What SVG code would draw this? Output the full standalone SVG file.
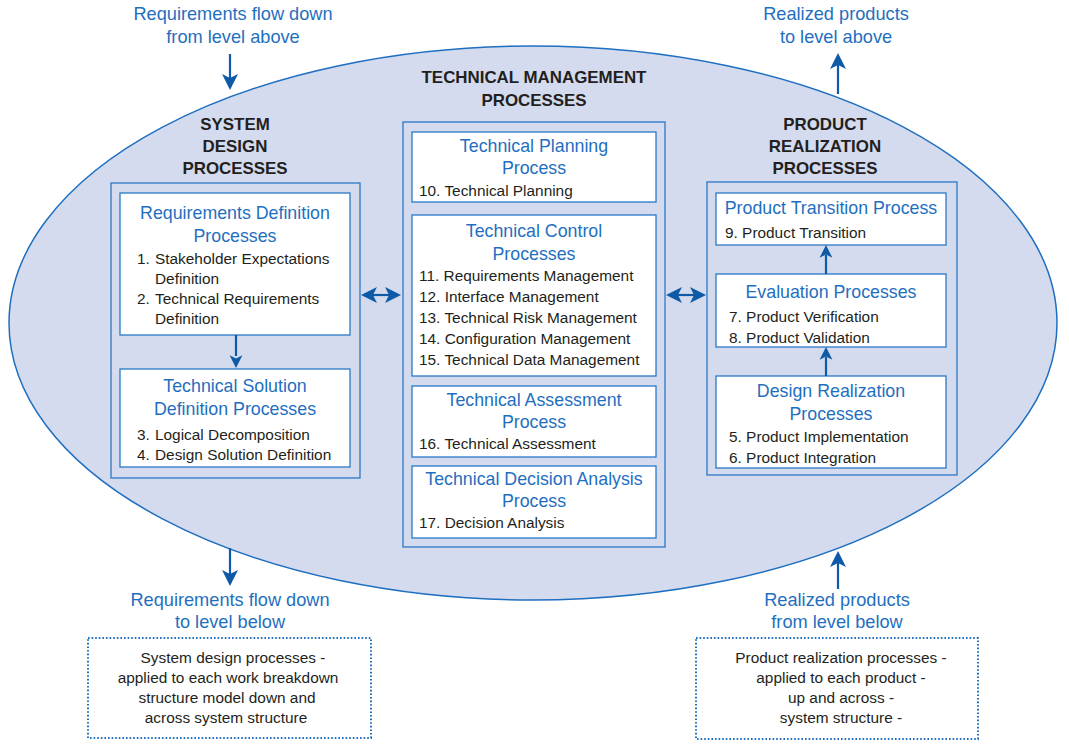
<svg xmlns="http://www.w3.org/2000/svg" width="1069" height="755" viewBox="0 0 1069 755">
<style>
.ell{fill:#d4dbee;stroke:#1f6fc0;stroke-width:1.5}
.outer{fill:none;stroke:#2a78c6;stroke-width:1.3}
.box{fill:#ffffff;stroke:#2a78c6;stroke-width:1.3}
.dot{fill:#ffffff;stroke:#1f6fc0;stroke-width:2;stroke-dasharray:1.6 2}
.bt{font-family:"Liberation Sans",Arial,sans-serif;font-size:17.8px;fill:#1f6fc0;text-anchor:middle}
.it{font-family:"Liberation Sans",Arial,sans-serif;font-size:15.4px;fill:#231f20}
.hd{font-family:"Liberation Sans",Arial,sans-serif;font-size:16.9px;font-weight:bold;fill:#231f20;text-anchor:middle}
.ext{font-family:"Liberation Sans",Arial,sans-serif;font-size:18.2px;fill:#1f6fc0;text-anchor:middle}
.note{font-family:"Liberation Sans",Arial,sans-serif;font-size:15.4px;fill:#231f20;text-anchor:middle}
.ln{stroke:#0e5aa7;stroke-width:2.2;fill:none}
.ah{fill:#0e5aa7}
</style>
<defs>
<path id="hd" d="M0 0 L-8 -16 L0 -12 L8 -16 Z"/>
</defs>
<ellipse class="ell" cx="533" cy="323" rx="524" ry="277"/>

<g id="headers">
<text class="hd" x="534" y="83">TECHNICAL MANAGEMENT</text>
<text class="hd" x="534" y="106">PROCESSES</text>
<text class="hd" x="235" y="130">SYSTEM</text>
<text class="hd" x="235" y="152">DESIGN</text>
<text class="hd" x="235" y="174">PROCESSES</text>
<text class="hd" x="825" y="130">PRODUCT</text>
<text class="hd" x="825" y="152">REALIZATION</text>
<text class="hd" x="825" y="174">PROCESSES</text>
</g>

<g id="system-design">
<rect class="outer" x="111" y="183" width="249" height="295"/>
</g>
<g id="req-def">
<rect class="box" x="120" y="193" width="230" height="142"/>
<text class="bt" x="235" y="219">Requirements Definition</text>
<text class="bt" x="235" y="242">Processes</text>
<text class="it" x="137" y="264">1.</text><text class="it" x="155" y="264">Stakeholder Expectations</text>
<text class="it" x="155" y="284">Definition</text>
<text class="it" x="137" y="304">2.</text><text class="it" x="155" y="304">Technical Requirements</text>
<text class="it" x="155" y="324">Definition</text>
</g>
<g id="tech-sol">
<rect class="box" x="120" y="369" width="230" height="98"/>
<text class="bt" x="235" y="392">Technical Solution</text>
<text class="bt" x="235" y="415">Definition Processes</text>
<text class="it" x="137" y="440">3.</text><text class="it" x="155" y="440">Logical Decomposition</text>
<text class="it" x="137" y="460">4.</text><text class="it" x="155" y="460">Design Solution Definition</text>
</g>

<g id="tech-mgmt">
<rect class="outer" x="403" y="122" width="262" height="425"/>
</g>
<g id="tech-plan">
<rect class="box" x="412" y="132" width="244" height="70"/>
<text class="bt" x="534" y="152">Technical Planning</text>
<text class="bt" x="534" y="174">Process</text>
<text class="it" x="419" y="196">10. Technical Planning</text>
</g>
<g id="tech-control">
<rect class="box" x="412" y="215" width="244" height="161"/>
<text class="bt" x="534" y="237">Technical Control</text>
<text class="bt" x="534" y="260">Processes</text>
<text class="it" x="419" y="281">11. Requirements Management</text>
<text class="it" x="419" y="302">12. Interface Management</text>
<text class="it" x="419" y="323">13. Technical Risk Management</text>
<text class="it" x="419" y="344">14. Configuration Management</text>
<text class="it" x="419" y="365">15. Technical Data Management</text>
</g>
<g id="tech-assess">
<rect class="box" x="412" y="386" width="244" height="71"/>
<text class="bt" x="534" y="406">Technical Assessment</text>
<text class="bt" x="534" y="428">Process</text>
<text class="it" x="419" y="449">16. Technical Assessment</text>
</g>
<g id="tech-decision">
<rect class="box" x="412" y="466" width="244" height="72"/>
<text class="bt" x="534" y="485">Technical Decision Analysis</text>
<text class="bt" x="534" y="507">Process</text>
<text class="it" x="419" y="528">17. Decision Analysis</text>
</g>

<g id="product-realization">
<rect class="outer" x="707" y="182" width="250" height="293"/>
</g>
<g id="transition">
<rect class="box" x="716" y="193" width="230" height="52"/>
<text class="bt" x="831" y="214">Product Transition Process</text>
<text class="it" x="725" y="238">9. Product Transition</text>
</g>
<g id="evaluation">
<rect class="box" x="716" y="274" width="230" height="73"/>
<text class="bt" x="831" y="298">Evaluation Processes</text>
<text class="it" x="729" y="322">7. Product Verification</text>
<text class="it" x="729" y="343">8. Product Validation</text>
</g>
<g id="design-real">
<rect class="box" x="716" y="376" width="230" height="92"/>
<text class="bt" x="831" y="397">Design Realization</text>
<text class="bt" x="831" y="420">Processes</text>
<text class="it" x="729" y="442">5. Product Implementation</text>
<text class="it" x="729" y="463">6. Product Integration</text>
</g>

<g id="ext-labels">
<text class="ext" x="233" y="20">Requirements flow down</text>
<text class="ext" x="233" y="43">from level above</text>
<text class="ext" x="836" y="20">Realized products</text>
<text class="ext" x="836" y="43">to level above</text>
<text class="ext" x="230" y="606">Requirements flow down</text>
<text class="ext" x="230" y="628">to level below</text>
<text class="ext" x="837" y="606">Realized products</text>
<text class="ext" x="837" y="628">from level below</text>
</g>

<g id="note-left">
<rect class="dot" x="88" y="638" width="283" height="100"/>
<text class="note" x="233" y="663">System design processes -</text>
<text class="note" x="228" y="683">applied to each work breakdown</text>
<text class="note" x="227" y="703">structure model down and</text>
<text class="note" x="226" y="723">across system structure</text>
</g>
<g id="note-right">
<rect class="dot" x="696" y="638" width="282" height="101"/>
<text class="note" x="841" y="663">Product realization processes -</text>
<text class="note" x="841" y="683">applied to each product -</text>
<text class="note" x="841" y="703">up and across -</text>
<text class="note" x="841" y="723">system structure -</text>
</g>

<g id="connectors">
<line class="ln" x1="230" y1="54" x2="230" y2="78"/>
<use href="#hd" class="ah" transform="translate(230,90)"/>
<line class="ln" x1="838" y1="94" x2="838" y2="64"/>
<use href="#hd" class="ah" transform="translate(838,53) rotate(180)"/>
<line class="ln" x1="230" y1="548" x2="230" y2="574"/>
<use href="#hd" class="ah" transform="translate(230,586)"/>
<line class="ln" x1="838" y1="589" x2="838" y2="563"/>
<use href="#hd" class="ah" transform="translate(838,551) rotate(180)"/>

<line class="ln" x1="236" y1="335" x2="236" y2="356"/>
<use href="#hd" class="ah" transform="translate(236,368) scale(0.8)"/>
<line class="ln" x1="826" y1="376" x2="826" y2="357"/>
<use href="#hd" class="ah" transform="translate(826,347) rotate(180) scale(0.8)"/>
<line class="ln" x1="826" y1="274" x2="826" y2="255"/>
<use href="#hd" class="ah" transform="translate(826,245) rotate(180) scale(0.8)"/>

<line class="ln" x1="370" y1="295" x2="392" y2="295"/>
<use href="#hd" class="ah" transform="translate(361,295) rotate(90)"/>
<use href="#hd" class="ah" transform="translate(401,295) rotate(-90)"/>
<line class="ln" x1="675" y1="295" x2="697" y2="295"/>
<use href="#hd" class="ah" transform="translate(666,295) rotate(90)"/>
<use href="#hd" class="ah" transform="translate(706,295) rotate(-90)"/>
</g>
</svg>
